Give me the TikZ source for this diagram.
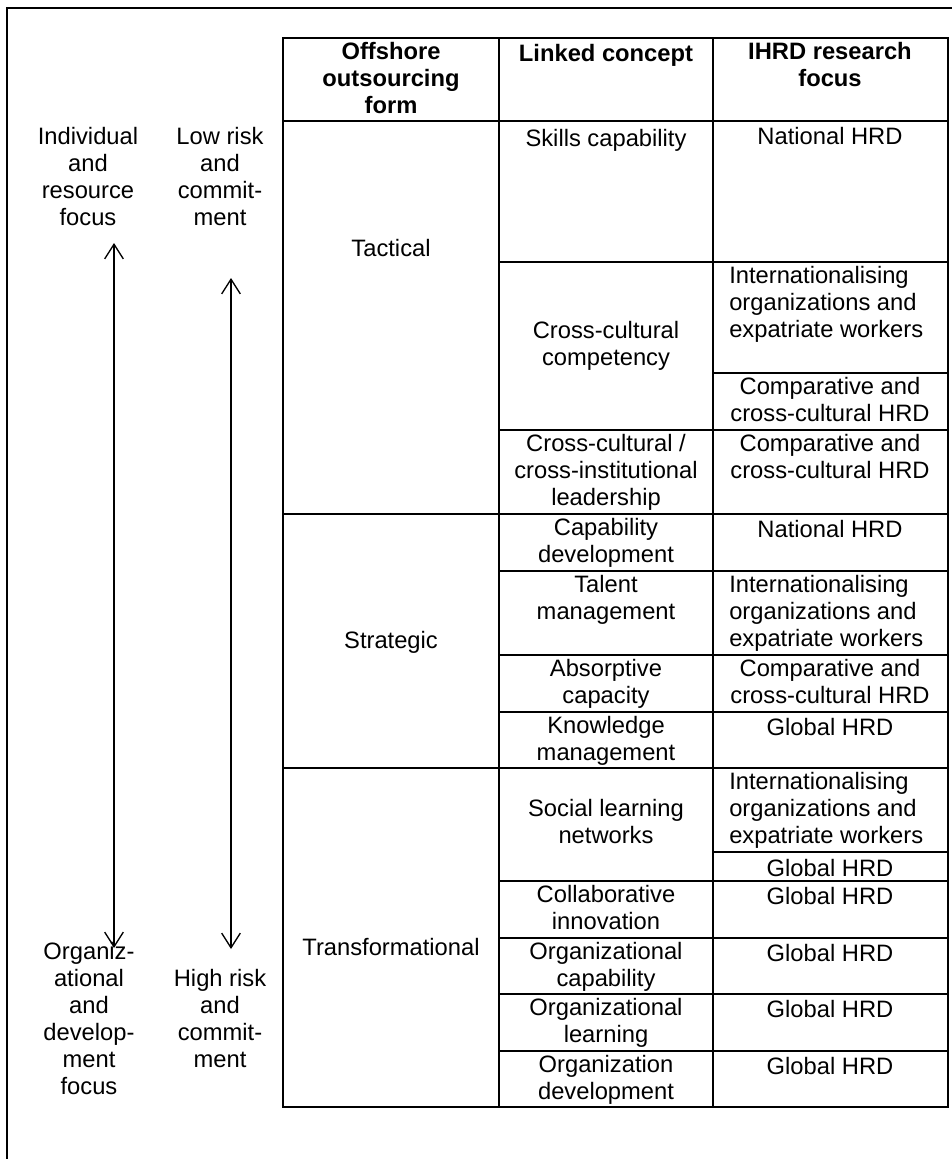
\documentclass[tikz,border=0pt]{standalone}
\usepackage{fontspec}
\setmainfont{Liberation Sans}
\usetikzlibrary{arrows.meta}

\begin{document}
\begin{tikzpicture}[x=0.75pt,y=-0.75pt,
  txt/.style={anchor=north, inner sep=0pt, align=center, font=\fontsize{17.8}{20.25}\selectfont, execute at begin node=\strut},
  lefttxt/.style={txt, anchor=north west, align=left},
  head/.style={txt, font=\fontsize{17.8}{20.25}\selectfont\bfseries},
  grid/.style={line width=1.5pt},
  twoway/.style={{Straight Barb[length=11pt,width=14pt]}-{Straight Barb[length=11pt,width=14pt]}, line width=1pt}]
\useasboundingbox (0,0) rectangle (952,1159);
\clip (0,0) rectangle (952,1159);
% outer frame (runs off the right and bottom edge)
\draw[grid] (7,8) rectangle (975,1185);
% table rules
\draw[grid] (283,38) rectangle (948,1107);
\draw[grid] (499,38)--(499,1107);
\draw[grid] (713,38)--(713,1107);
\draw[grid] (283,121)--(948,121);
\draw[grid] (283,514)--(948,514);
\draw[grid] (283,768)--(948,768);
\foreach \y in {262,430,571,655,712,881,938,994,1051}
  \draw[grid] (499,\y)--(948,\y);
\draw[grid] (713,373)--(948,373);
\draw[grid] (713,852)--(948,852);
% header
\node[head] (hOff) at (391,42) {Offshore\\outsourcing\\form};
\node[head] (hLink) at (606,42) {Linked concept};
\node[head] (hFocus) at (830,42) {IHRD research\\focus};
% offshore outsourcing form
\node[txt] (tac) at (391,237) {Tactical};
\node[txt] (str) at (391,629) {Strategic};
\node[txt] (tra) at (391,936) {Transformational};
% linked concept
\node[txt] (skill) at (606,127) {Skills capability};
\node[txt] (cccomp) at (606,321) {Cross-cultural\\competency};
\node[txt] (cclead) at (606,434) {Cross-cultural /\\cross-institutional\\leadership};
\node[txt] (capdev) at (606,518) {Capability\\development};
\node[txt] (talent) at (606,575) {Talent\\management};
\node[txt] (absorb) at (606,659) {Absorptive\\capacity};
\node[txt] (knowl) at (606,716) {Knowledge\\management};
\node[txt] (social) at (606,799) {Social learning\\networks};
\node[txt] (collab) at (606,885) {Collaborative\\innovation};
\node[txt] (orgcap) at (606,942) {Organizational\\capability};
\node[txt] (orglearn) at (606,998) {Organizational\\learning};
\node[txt] (orgdev) at (606,1055) {Organization\\development};
% IHRD research focus
\node[txt] (fA) at (830,125) {National HRD};
\node[lefttxt] (fB) at (729,266) {Internationalising\\organizations and\\expatriate workers};
\node[txt] (fC) at (830,377) {Comparative and\\cross-cultural HRD};
\node[txt] (fD) at (830,434) {Comparative and\\cross-cultural HRD};
\node[txt] (fE) at (830,518) {National HRD};
\node[lefttxt] (fF) at (729,575) {Internationalising\\organizations and\\expatriate workers};
\node[txt] (fG) at (830,659) {Comparative and\\cross-cultural HRD};
\node[txt] (fH) at (830,716) {Global HRD};
\node[lefttxt] (fI) at (729,772) {Internationalising\\organizations and\\expatriate workers};
\node[txt] (fJ) at (830,857) {Global HRD};
\node[txt] (fK) at (830,885) {Global HRD};
\node[txt] (fL) at (830,942) {Global HRD};
\node[txt] (fM) at (830,998) {Global HRD};
\node[txt] (fN) at (830,1055) {Global HRD};
% side scales
\node[txt] (indiv) at (88,127) {Individual\\and\\resource\\focus};
\node[txt] (lowrisk) at (220,127) {Low risk\\and\\commit-\\ment};
\node[txt] (orgfocus) at (89,942) {Organiz-\\ational\\and\\develop-\\ment\\focus};
\node[txt] (highrisk) at (220,969) {High risk\\and\\commit-\\ment};
\coordinate (focusTop) at (114,243);
\coordinate (focusBot) at (114,948);
\coordinate (riskTop) at (231,278);
\coordinate (riskBot) at (231,949);
\draw[twoway] (focusTop)--(focusBot);
\draw[twoway] (riskTop)--(riskBot);
\end{tikzpicture}
\end{document}
